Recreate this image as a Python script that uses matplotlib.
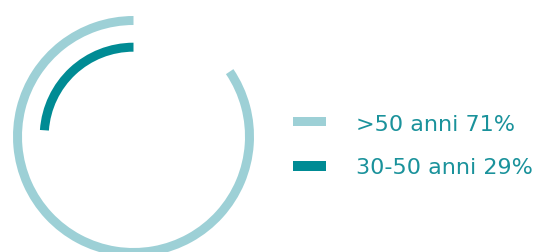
import matplotlib
matplotlib.use("Agg")
import matplotlib.pyplot as plt
from matplotlib.patches import Wedge, Rectangle

# data
categories = [">50 anni", "30-50 anni"]
percent = [71, 29]
arc_span_deg = [304, 86]   # drawn arc lengths
colors = ["#9dd0d6", "#008b94"]
text_color = "#1a929b"

W, H = 548, 252
fig = plt.figure(figsize=(W / 100, H / 100), dpi=100)
ax = fig.add_axes([0, 0, 1, 1])
ax.set_xlim(0, W)
ax.set_ylim(0, H)
ax.set_aspect("equal")
ax.axis("off")

cx, cy = 133.5, H - 136.5
radii = [120.5, 93.8]
ring_w = 9
for span, r, c in zip(arc_span_deg, radii, colors):
    ax.add_patch(Wedge((cx, cy), r, 90, 90 + span, width=ring_w,
                       facecolor=c, edgecolor="none"))

# legend
swatch_top = [116.7, 161.3]
baselines = [130.7, 173.9]
for cat, p, c, st, bl in zip(categories, percent, colors, swatch_top, baselines):
    ax.add_patch(Rectangle((293, H - st - 9.3), 33, 9.3, facecolor=c, edgecolor="none"))
    ax.text(356.5, H - bl, f"{cat} {p}%", color=text_color, fontsize=16,
            family=["DejaVu Sans"], va="baseline", ha="left")

fig.savefig("out.png", dpi=100)
